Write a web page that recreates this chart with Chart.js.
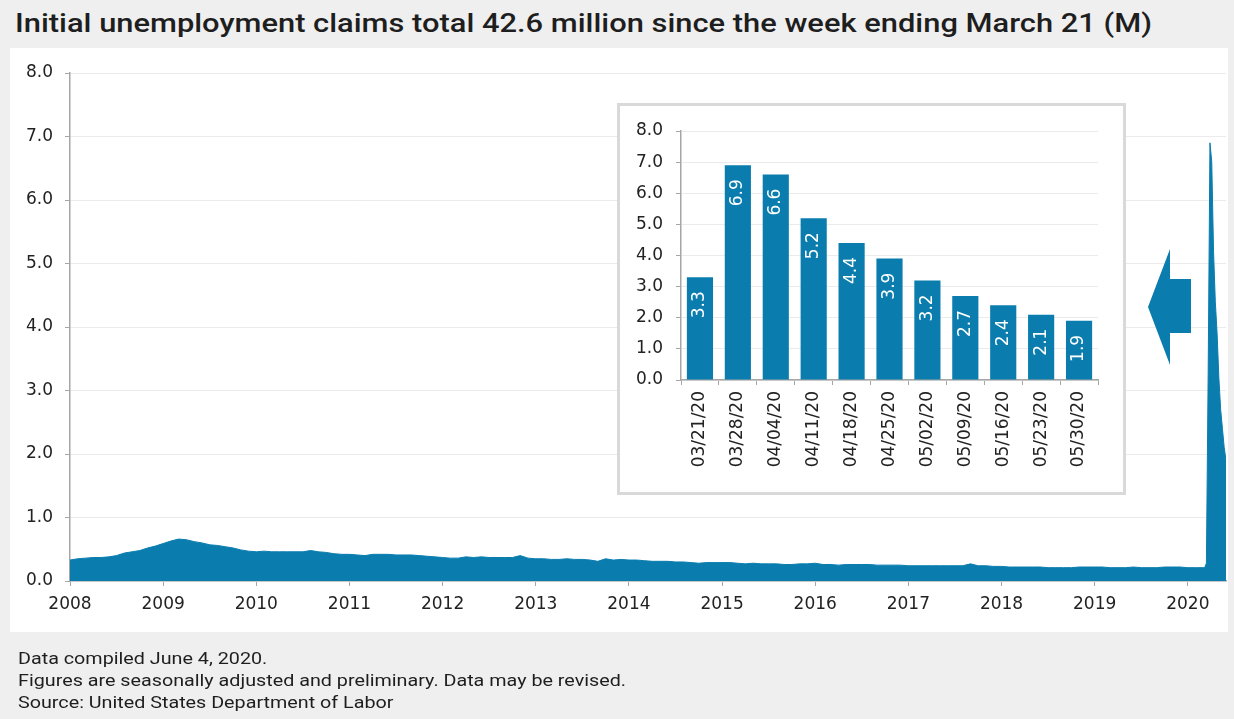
<!DOCTYPE html>
<html>
<head>
<meta charset="utf-8">
<script src="https://cdn.jsdelivr.net/npm/chart.js@4.4.1/dist/chart.umd.min.js"></script>
<style>
  html, body { margin: 0; padding: 0; }
  body { width: 1234px; height: 719px; background: #efefef; position: relative; overflow: hidden; font-family: Roboto, sans-serif; color: #1e1e1e; }
  #panel { position: absolute; left: 10px; top: 48px; width: 1218px; height: 584px; background: #fff; }
  #title { position: absolute; left: 15px; top: 9px; font-size: 25px; font-weight: 500; line-height: 30px; white-space: nowrap; transform-origin: 0 0; }
  #mainWrap { position: absolute; left: 0; top: 48px; width: 1234px; height: 584px; }
  #insetBox { position: absolute; left: 617px; top: 103px; width: 503px; height: 386px; border: 3px solid #d9d9d9; background: #fff; }
  #insetWrap { position: absolute; left: 617px; top: 103px; width: 509px; height: 392px; }
  #arrow { position: absolute; left: 0; top: 0; pointer-events: none; }
  #footer { position: absolute; left: 18px; top: 647px; font-size: 17px; line-height: 22px; white-space: nowrap; transform-origin: 0 0; }
</style>
</head>
<body>
<div id="title">Initial unemployment claims total 42.6 million since the week ending March 21 (M)</div>
<div id="panel"></div>
<div id="mainWrap"><canvas id="mainChart"></canvas></div>
<div id="insetBox"></div>
<div id="insetWrap"><canvas id="insetChart"></canvas></div>
<svg id="arrow" width="1234" height="719">
  <polygon points="1148,307 1170,249 1170,279 1191,279 1191,333 1170,333 1170,365" fill="#0a7dae"/>
</svg>
<div id="footer">
  <div>Data compiled June 4, 2020.</div>
  <div id="footLong">Figures are seasonally adjusted and preliminary. Data may be revised.</div>
  <div>Source: United States Department of Labor</div>
</div>

<script>
// weekly initial claims, millions (monthly readings up to Feb 2020)
const claims2008 = [0.33, 0.35, 0.36, 0.37, 0.37, 0.38, 0.40, 0.44, 0.46, 0.48, 0.52, 0.55];
const claims2009 = [0.59, 0.63, 0.66, 0.65, 0.62, 0.60, 0.57, 0.56, 0.54, 0.52, 0.49, 0.47];
const claims2010 = [0.46, 0.47, 0.46, 0.46, 0.46, 0.46, 0.46, 0.48, 0.46, 0.45, 0.43, 0.42];
const claims2011 = [0.42, 0.41, 0.40, 0.42, 0.42, 0.42, 0.41, 0.41, 0.41, 0.40, 0.39, 0.38];
const claims2012 = [0.37, 0.36, 0.36, 0.38, 0.37, 0.38, 0.37, 0.37, 0.37, 0.37, 0.40, 0.36];
const claims2013 = [0.35, 0.35, 0.34, 0.34, 0.35, 0.34, 0.34, 0.33, 0.31, 0.35, 0.33, 0.34];
const claims2014 = [0.33, 0.33, 0.32, 0.31, 0.31, 0.31, 0.30, 0.30, 0.29, 0.28, 0.29, 0.29];
const claims2015 = [0.29, 0.29, 0.28, 0.27, 0.28, 0.27, 0.27, 0.27, 0.26, 0.26, 0.27, 0.27];
const claims2016 = [0.28, 0.26, 0.26, 0.25, 0.26, 0.26, 0.26, 0.26, 0.25, 0.25, 0.25, 0.25];
const claims2017 = [0.24, 0.24, 0.24, 0.24, 0.24, 0.24, 0.24, 0.24, 0.27, 0.24, 0.24, 0.23];
const claims2018 = [0.23, 0.22, 0.22, 0.22, 0.22, 0.22, 0.21, 0.21, 0.21, 0.21, 0.22, 0.22];
const claims2019 = [0.22, 0.22, 0.21, 0.21, 0.21, 0.22, 0.21, 0.21, 0.21, 0.22, 0.22, 0.22];
const claims2020 = [0.21, 0.21];

const preSpikeWeeks = ["03/07/20", "03/14/20"];
const preSpikeClaims = [0.21, 0.28];

const weekLabels = ["03/21/20", "03/28/20", "04/04/20", "04/11/20", "04/18/20", "04/25/20",
                    "05/02/20", "05/09/20", "05/16/20", "05/23/20", "05/30/20"];
const weeklyClaims = [3.3, 6.9, 6.6, 5.2, 4.4, 3.9, 3.2, 2.7, 2.4, 2.1, 1.9];

const yearTicks = [2008, 2009, 2010, 2011, 2012, 2013, 2014, 2015, 2016, 2017, 2018, 2019, 2020];

const BLUE = "#0a7dae";
const AXIS = "#a6a6a6";
const GRID = "#ebebeb";
const TEXT = "#222";

Chart.defaults.font.family = "'DejaVu Sans', sans-serif";
Chart.defaults.font.size = 17;
Chart.defaults.color = TEXT;

function labelToYear(s) {
  const [m, d, y] = s.split("/").map(Number);
  const yr = 2000 + y;
  const start = Date.UTC(yr, 0, 1), end = Date.UTC(yr + 1, 0, 1);
  return yr + (Date.UTC(yr, m - 1, d) - start) / (end - start);
}

const monthly = [
  [2008, claims2008], [2009, claims2009], [2010, claims2010], [2011, claims2011],
  [2012, claims2012], [2013, claims2013], [2014, claims2014], [2015, claims2015],
  [2016, claims2016], [2017, claims2017], [2018, claims2018], [2019, claims2019],
  [2020, claims2020]
];
const mainPoints = [];
monthly.forEach(([yr, vals]) => vals.forEach((v, i) => mainPoints.push({ x: yr + i / 12, y: v })));
preSpikeWeeks.forEach((w, i) => mainPoints.push({ x: labelToYear(w), y: preSpikeClaims[i] }));
weekLabels.forEach((w, i) => mainPoints.push({ x: labelToYear(w), y: weeklyClaims[i] }));
const lastX = mainPoints[mainPoints.length - 1].x;

new Chart(document.getElementById("mainChart"), {
  type: "line",
  data: {
    datasets: [{
      data: mainPoints,
      borderColor: BLUE,
      backgroundColor: BLUE,
      borderWidth: 1,
      pointRadius: 0,
      fill: "origin",
      tension: 0
    }]
  },
  options: {
    responsive: true,
    maintainAspectRatio: false,
    animation: false,
    devicePixelRatio: 1,
    layout: { padding: { top: 25, right: 8, left: 0, bottom: 0 } },
    plugins: { legend: { display: false }, tooltip: { enabled: false } },
    scales: {
      x: {
        type: "linear",
        min: 2008,
        max: lastX,
        afterBuildTicks: s => { s.ticks = yearTicks.map(v => ({ value: v })); },
        afterFit: s => { s.height = 51; },
        ticks: { autoSkip: false, maxRotation: 0, padding: 8, callback: v => String(v) },
        grid: { drawOnChartArea: false, tickLength: 5, tickColor: AXIS },
        border: { color: AXIS, width: 1.5 }
      },
      y: {
        min: 0,
        max: 8,
        afterFit: s => { s.width = 70; },
        ticks: { stepSize: 1, padding: 12, callback: v => v.toFixed(1) },
        grid: { color: GRID, tickLength: 5, tickColor: AXIS },
        border: { color: AXIS, width: 1.5 }
      }
    }
  }
});

const barLabels = {
  id: "barLabels",
  afterDatasetsDraw(chart) {
    const ctx = chart.ctx;
    const meta = chart.getDatasetMeta(0);
    ctx.save();
    ctx.fillStyle = "#fff";
    ctx.font = "17px 'DejaVu Sans', sans-serif";
    ctx.textAlign = "right";
    ctx.textBaseline = "middle";
    meta.data.forEach((bar, i) => {
      ctx.save();
      ctx.translate(bar.x, bar.y + 14);
      ctx.rotate(-Math.PI / 2);
      ctx.fillText(weeklyClaims[i].toFixed(1), 0, 0);
      ctx.restore();
    });
    ctx.restore();
  }
};

new Chart(document.getElementById("insetChart"), {
  type: "bar",
  data: {
    labels: weekLabels,
    datasets: [{ data: weeklyClaims, backgroundColor: BLUE, barPercentage: 0.69, categoryPercentage: 1 }]
  },
  options: {
    responsive: true,
    maintainAspectRatio: false,
    animation: false,
    devicePixelRatio: 1,
    layout: { padding: { top: 28, right: 28, left: 0, bottom: 0 } },
    plugins: { legend: { display: false }, tooltip: { enabled: false } },
    scales: {
      x: {
        afterFit: s => { s.height = 115; },
        ticks: { minRotation: 90, maxRotation: 90, autoSkip: false, padding: 6 },
        grid: { drawOnChartArea: false, tickLength: 5, tickColor: AXIS },
        border: { color: AXIS, width: 1.5 }
      },
      y: {
        min: 0,
        max: 8,
        afterFit: s => { s.width = 64; },
        ticks: { stepSize: 1, padding: 13, callback: v => v.toFixed(1) },
        grid: { color: GRID, tickLength: 5, tickColor: AXIS },
        border: { color: AXIS, width: 1.5 }
      }
    }
  },
  plugins: [barLabels]
});

// squeeze the condensed-looking text blocks to the reference widths
function fitWidth(el, measureEl, target) {
  const w = measureEl.getBoundingClientRect().width;
  el.style.transform = "scaleX(" + (target / w) + ")";
}
const title = document.getElementById("title");
fitWidth(title, title, 1137);
const footLong = document.getElementById("footLong");
footLong.style.display = "inline-block";
fitWidth(document.getElementById("footer"), footLong, 608);
</script>
</body>
</html>
